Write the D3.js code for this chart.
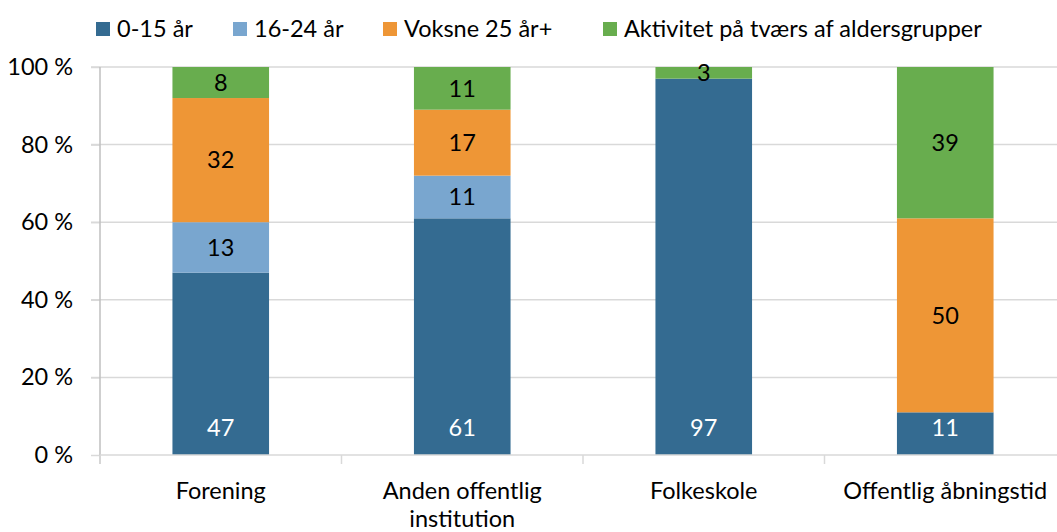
<!DOCTYPE html>
<html>
<head>
<meta charset="utf-8">
<script src="https://cdn.jsdelivr.net/npm/d3@7"></script>
<style>
  body { margin: 0; background: #fff; }
  svg { font-family: Lato, "Open Sans", sans-serif; }
</style>
</head>
<body>
<div id="chart"></div>
<script>
// data
const categories = ["Forening", "Anden offentlig institution", "Folkeskole", "Offentlig åbningstid"];
const seriesNames = ["0-15 år", "16-24 år", "Voksne 25 år+", "Aktivitet på tværs af aldersgrupper"];
const age0to15 = [47, 61, 97, 11];
const age16to24 = [13, 11, 0, 0];
const adults25 = [32, 17, 0, 50];
const acrossAges = [8, 11, 3, 39];
const yTicks = [0, 20, 40, 60, 80, 100];
const colors = ["#346b91", "#79a6cf", "#ee9636", "#68ad4e"];

const width = 1057, height = 532;
const margin = {top: 67, left: 100, bottom: 77};
const fs = 23.5;

const svg = d3.select("#chart").append("svg")
    .attr("width", width)
    .attr("height", height);

// build stack table from the arrays
const table = categories.map((c, i) => ({
    cat: c,
    s0: age0to15[i], s1: age16to24[i], s2: adults25[i], s3: acrossAges[i]
}));
const stacked = d3.stack().keys(["s0", "s1", "s2", "s3"])(table);

const x = d3.scaleBand().domain(categories).range([margin.left, 1066]).padding(0);
const y = d3.scaleLinear().domain([0, 100]).range([height - margin.bottom, margin.top]);
const barW = x.bandwidth() * 0.4;

// gridlines
svg.append("g")
    .selectAll("line")
    .data(yTicks.filter(d => d > 0))
    .enter().append("line")
    .attr("x1", margin.left - 9)
    .attr("x2", width)
    .attr("y1", d => y(d))
    .attr("y2", d => y(d))
    .attr("stroke", "#d9d9d9")
    .attr("stroke-width", 1.5);

// y axis
const yAxis = d3.axisLeft(y).tickValues(yTicks).tickSize(9).tickPadding(18)
    .tickFormat(d => d + " %");
const yAxisG = svg.append("g")
    .attr("transform", `translate(${margin.left},0)`)
    .call(yAxis);
yAxisG.select(".domain").remove();
yAxisG.selectAll(".tick line").attr("stroke", "#d9d9d9").attr("stroke-width", 1.5);
yAxisG.selectAll(".tick text").attr("font-size", fs).attr("fill", "#000").attr("font-family", "Lato");
yAxisG.append("line")
    .attr("x1", 0).attr("x2", 0)
    .attr("y1", y(100)).attr("y2", y(0) + 9)
    .attr("stroke", "#bfbfbf").attr("stroke-width", 1.5);

// bars
const layers = svg.append("g").selectAll("g")
    .data(stacked)
    .enter().append("g")
    .attr("fill", (d, i) => colors[i]);

layers.selectAll("rect")
    .data(d => d)
    .enter().append("rect")
    .attr("x", d => x(d.data.cat) + (x.bandwidth() - barW) / 2)
    .attr("y", d => y(d[1]))
    .attr("width", barW)
    .attr("height", d => y(d[0]) - y(d[1]));

// x axis
const xAxisG = svg.append("g")
    .attr("transform", `translate(0,${y(0)})`);
xAxisG.append("line")
    .attr("x1", margin.left).attr("x2", width)
    .attr("stroke", "#d9d9d9").attr("stroke-width", 1.5);
xAxisG.selectAll(".ctick")
    .data(categories)
    .enter().append("line")
    .attr("class", "ctick")
    .attr("x1", d => x(d)).attr("x2", d => x(d))
    .attr("y1", 0).attr("y2", 9)
    .attr("stroke", "#d9d9d9").attr("stroke-width", 1.5);

const catLabel = xAxisG.selectAll(".clabel")
    .data(categories)
    .enter().append("text")
    .attr("class", "clabel")
    .attr("text-anchor", "middle")
    .attr("font-size", fs)
    .attr("fill", "#000")
    .attr("y", 44);
catLabel.each(function (d) {
    const t = d3.select(this);
    const lines = d === "Anden offentlig institution" ? ["Anden offentlig", "institution"] : [d];
    lines.forEach((l, i) => {
        t.append("tspan")
            .attr("x", x(d) + x.bandwidth() / 2)
            .attr("dy", i === 0 ? 0 : 28)
            .text(l);
    });
});

// data labels
stacked.forEach((layer, si) => {
    svg.append("g").selectAll("text")
        .data(layer.filter(d => d[1] - d[0] > 0))
        .enter().append("text")
        .attr("x", d => x(d.data.cat) + x.bandwidth() / 2)
        .attr("y", d => si === 0 ? y(d[0]) - 27 : (y(d[0]) + y(d[1])) / 2)
        .attr("dy", "0.35em")
        .attr("text-anchor", "middle")
        .attr("font-size", fs)
        .attr("fill", si === 0 ? "#fff" : "#000")
        .text(d => Math.round(d[1] - d[0]));
});

// legend
const legendX = [96, 233, 383, 603];
const legend = svg.append("g").selectAll("g")
    .data(seriesNames)
    .enter().append("g")
    .attr("transform", (d, i) => `translate(${legendX[i]},22)`);
legend.append("rect")
    .attr("width", 14).attr("height", 14)
    .attr("fill", (d, i) => colors[i]);
legend.append("text")
    .attr("x", 21).attr("y", 7)
    .attr("dy", "0.35em")
    .attr("font-size", fs)
    .attr("fill", "#000")
    .text(d => d);
</script>
</body>
</html>
